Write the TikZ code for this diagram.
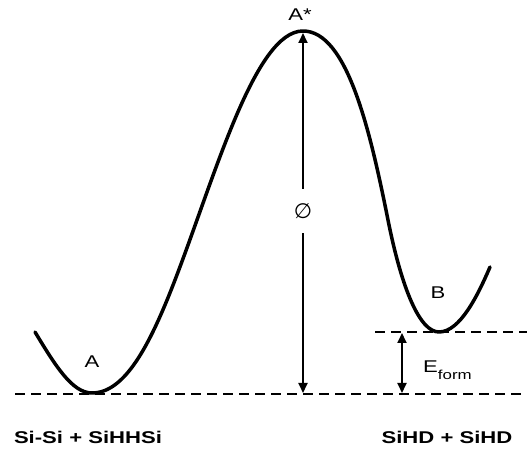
\documentclass[tikz,border=0pt]{standalone}
\usepackage{fontspec}
\setmainfont{Liberation Sans}
\newfontfamily\enfont[FakeStretch=1.3]{Liberation Sans}
\newfontfamily\ensym{DejaVu Sans}
\usetikzlibrary{arrows.meta}
\tikzset{
  en/.style={font=\enfont\fontsize{17}{20}\selectfont, text=black},
  enstate/.style={en, inner sep=0pt},
  enspecies/.style={en, font=\enfont\bfseries\fontsize{17}{20}\selectfont, inner sep=0pt},
  encurve/.style={line width=3.5pt, line cap=round, line join=round},
  enlevel/.style={line width=2.6pt, dash pattern=on 10pt off 6pt},
  enarr/.style={{Triangle[length=10pt,width=9pt]}-{Triangle[length=10pt,width=9pt]}, line width=1.8pt},
  enarrone/.style={-{Triangle[length=10pt,width=9pt]}, line width=1.8pt},
}

\begin{document}
\begin{tikzpicture}[x=1pt, y=-1pt]
  \useasboundingbox (0,0) rectangle (531,449);

  % energy levels
  \coordinate (lvlAw) at (15,394);
  \coordinate (lvlAe) at (527,394);
  \coordinate (lvlBw) at (375,332);
  \coordinate (lvlBe) at (527,332);
  \draw[enlevel] (lvlAw) -- (lvlAe);
  \draw[enlevel] (lvlBw) -- (lvlBe);

  % reaction path
  \coordinate (minA) at (92,393);
  \coordinate (peak) at (303,31);
  \coordinate (minB) at (439,332);
  \draw[encurve] (35,332) .. controls (55,365) and (72,393) .. (minA)
    .. controls (125,393) and (150,345) .. (175,280)
    .. controls (215,176) and (255,31) .. (peak)
    .. controls (347,31) and (370,130) .. (388,220)
    .. controls (402,290) and (420,332) .. (minB)
    .. controls (460,332) and (478,295) .. (490,267);

  % state labels
  \node[enstate] (lblA) at (92,362) {A};
  \node[enstate] (lblB) at (438,293) {B};
  \node[enstate] (lblTS) at (300,15) {A*};

  % barrier
  \node[en, font=\ensym\fontsize{21}{24}\selectfont, minimum height=44pt, inner sep=0pt] (barrier) at (303,211) {∅};
  \coordinate (peaktip) at (303,33);
  \coordinate (base) at (303,393);
  \draw[enarrone] (barrier) -- (peaktip);
  \draw[enarrone] (barrier) -- (base);

  % formation energy
  \coordinate (eB) at (402,333);
  \coordinate (eA) at (402,393);
  \draw[enarr] (eB) -- (eA);
  \node[enstate, anchor=base west] (eform) at (423,373)
    {E\raisebox{-7pt}{\fontsize{13}{15}\selectfont form}};

  % species
  \node[enspecies] (reactants) at (88,437) {Si-Si + SiHHSi};
  \node[enspecies] (products) at (447,437) {SiHD + SiHD};
\end{tikzpicture}
\end{document}
